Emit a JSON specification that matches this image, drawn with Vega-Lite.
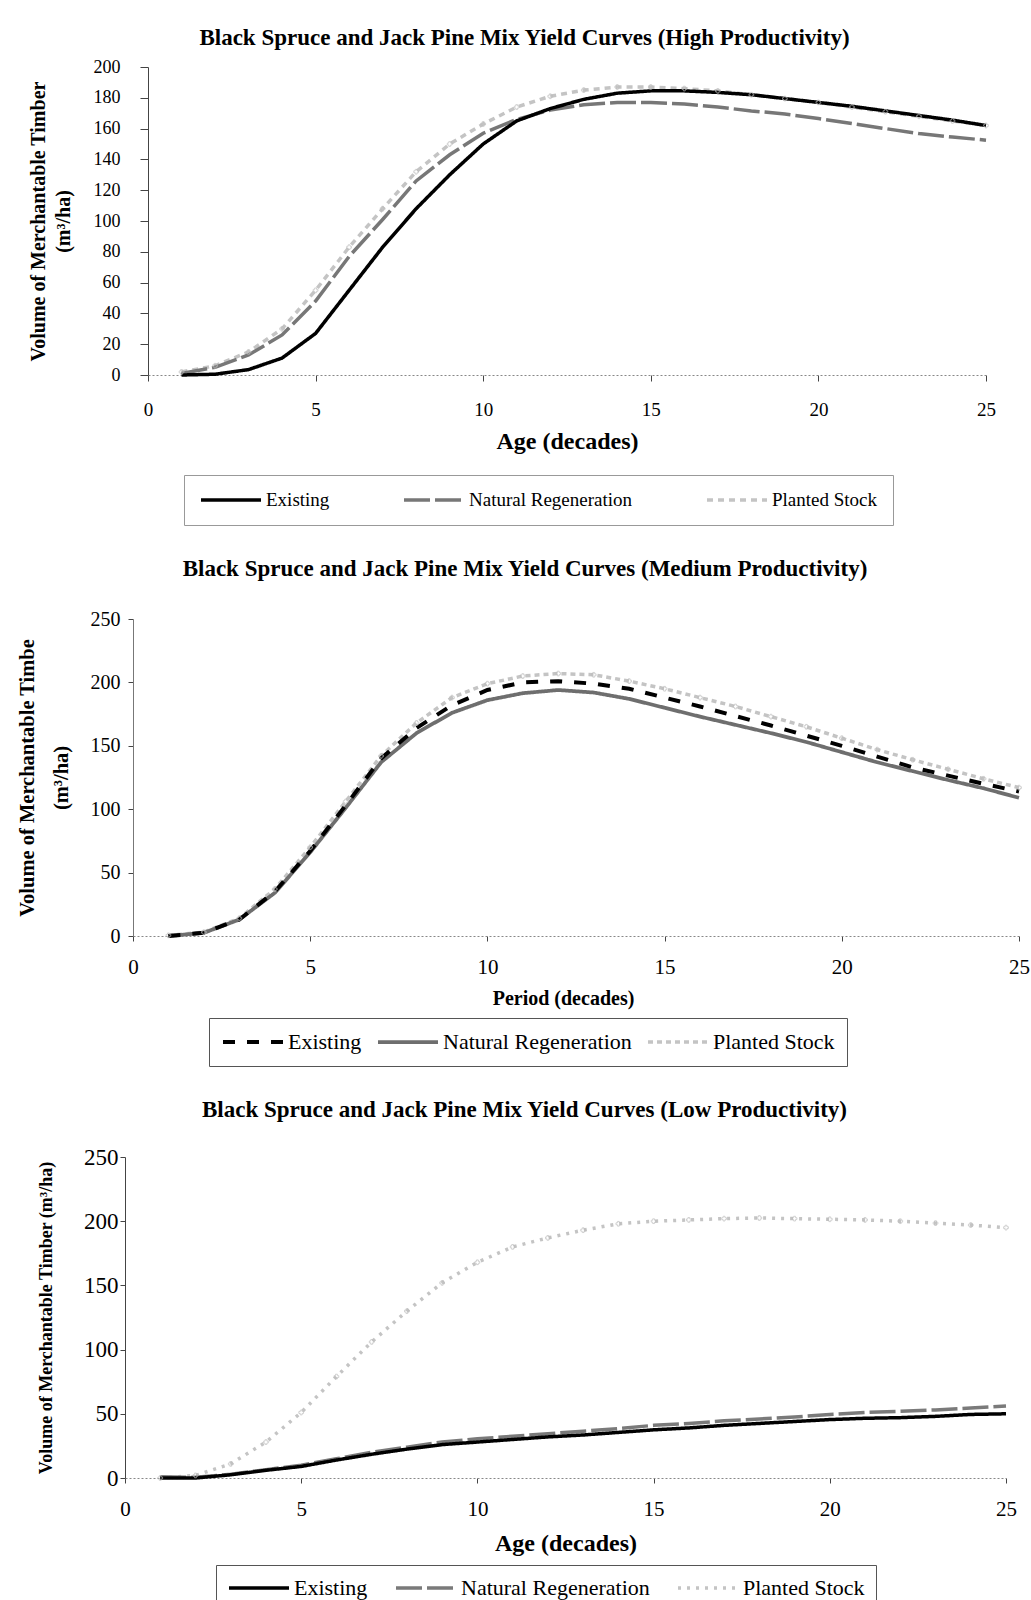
{
  "$schema": "https://vega.github.io/schema/vega-lite/v6.json",
  "background": "white",
  "padding": {"left": 17, "top": 27, "right": 0, "bottom": 0},
  "columns": 1,
  "bounds": "full",
  "spacing": 32,
  "datasets": {
    "high": [
      {"decade":1,"series":"Planted Stock","volume":2},{"decade":2,"series":"Planted Stock","volume":6},{"decade":3,"series":"Planted Stock","volume":15},{"decade":4,"series":"Planted Stock","volume":30},{"decade":5,"series":"Planted Stock","volume":55},{"decade":6,"series":"Planted Stock","volume":83},{"decade":7,"series":"Planted Stock","volume":108},{"decade":8,"series":"Planted Stock","volume":132},{"decade":9,"series":"Planted Stock","volume":150},{"decade":10,"series":"Planted Stock","volume":163},{"decade":11,"series":"Planted Stock","volume":174},{"decade":12,"series":"Planted Stock","volume":181},{"decade":13,"series":"Planted Stock","volume":185},{"decade":14,"series":"Planted Stock","volume":187},{"decade":15,"series":"Planted Stock","volume":187},{"decade":16,"series":"Planted Stock","volume":186},{"decade":17,"series":"Planted Stock","volume":184.5},{"decade":18,"series":"Planted Stock","volume":182},{"decade":19,"series":"Planted Stock","volume":179.5},{"decade":20,"series":"Planted Stock","volume":177},{"decade":21,"series":"Planted Stock","volume":174},{"decade":22,"series":"Planted Stock","volume":171},{"decade":23,"series":"Planted Stock","volume":168},{"decade":24,"series":"Planted Stock","volume":165},{"decade":25,"series":"Planted Stock","volume":162},
      {"decade":1,"series":"Natural Regeneration","volume":1},{"decade":2,"series":"Natural Regeneration","volume":5},{"decade":3,"series":"Natural Regeneration","volume":13},{"decade":4,"series":"Natural Regeneration","volume":26},{"decade":5,"series":"Natural Regeneration","volume":48},{"decade":6,"series":"Natural Regeneration","volume":77},{"decade":7,"series":"Natural Regeneration","volume":101},{"decade":8,"series":"Natural Regeneration","volume":126},{"decade":9,"series":"Natural Regeneration","volume":143},{"decade":10,"series":"Natural Regeneration","volume":157},{"decade":11,"series":"Natural Regeneration","volume":166},{"decade":12,"series":"Natural Regeneration","volume":172},{"decade":13,"series":"Natural Regeneration","volume":175.5},{"decade":14,"series":"Natural Regeneration","volume":177},{"decade":15,"series":"Natural Regeneration","volume":177},{"decade":16,"series":"Natural Regeneration","volume":176},{"decade":17,"series":"Natural Regeneration","volume":174},{"decade":18,"series":"Natural Regeneration","volume":171.5},{"decade":19,"series":"Natural Regeneration","volume":169.5},{"decade":20,"series":"Natural Regeneration","volume":166.5},{"decade":21,"series":"Natural Regeneration","volume":163.3},{"decade":22,"series":"Natural Regeneration","volume":160},{"decade":23,"series":"Natural Regeneration","volume":156.8},{"decade":24,"series":"Natural Regeneration","volume":154.5},{"decade":25,"series":"Natural Regeneration","volume":152.5},
      {"decade":1,"series":"Existing","volume":0},{"decade":2,"series":"Existing","volume":0.5},{"decade":3,"series":"Existing","volume":3.5},{"decade":4,"series":"Existing","volume":11},{"decade":5,"series":"Existing","volume":27},{"decade":6,"series":"Existing","volume":55},{"decade":7,"series":"Existing","volume":83},{"decade":8,"series":"Existing","volume":108},{"decade":9,"series":"Existing","volume":130},{"decade":10,"series":"Existing","volume":150},{"decade":11,"series":"Existing","volume":165},{"decade":12,"series":"Existing","volume":173},{"decade":13,"series":"Existing","volume":179},{"decade":14,"series":"Existing","volume":183},{"decade":15,"series":"Existing","volume":184.5},{"decade":16,"series":"Existing","volume":184.5},{"decade":17,"series":"Existing","volume":183.5},{"decade":18,"series":"Existing","volume":182},{"decade":19,"series":"Existing","volume":179.5},{"decade":20,"series":"Existing","volume":177},{"decade":21,"series":"Existing","volume":174.5},{"decade":22,"series":"Existing","volume":171.5},{"decade":23,"series":"Existing","volume":168.5},{"decade":24,"series":"Existing","volume":165.5},{"decade":25,"series":"Existing","volume":162}
    ],
    "medium": [
      {"decade":1,"series":"Planted Stock","volume":0.5},{"decade":2,"series":"Planted Stock","volume":3},{"decade":3,"series":"Planted Stock","volume":14},{"decade":4,"series":"Planted Stock","volume":37},{"decade":5,"series":"Planted Stock","volume":70},{"decade":6,"series":"Planted Stock","volume":106},{"decade":7,"series":"Planted Stock","volume":142},{"decade":8,"series":"Planted Stock","volume":168},{"decade":9,"series":"Planted Stock","volume":188},{"decade":10,"series":"Planted Stock","volume":199},{"decade":11,"series":"Planted Stock","volume":205},{"decade":12,"series":"Planted Stock","volume":207},{"decade":13,"series":"Planted Stock","volume":206},{"decade":14,"series":"Planted Stock","volume":201},{"decade":15,"series":"Planted Stock","volume":195},{"decade":16,"series":"Planted Stock","volume":188},{"decade":17,"series":"Planted Stock","volume":181},{"decade":18,"series":"Planted Stock","volume":173},{"decade":19,"series":"Planted Stock","volume":165},{"decade":20,"series":"Planted Stock","volume":156},{"decade":21,"series":"Planted Stock","volume":147},{"decade":22,"series":"Planted Stock","volume":139},{"decade":23,"series":"Planted Stock","volume":131.5},{"decade":24,"series":"Planted Stock","volume":124},{"decade":25,"series":"Planted Stock","volume":117},
      {"decade":1,"series":"Natural Regeneration","volume":0},{"decade":2,"series":"Natural Regeneration","volume":2.5},{"decade":3,"series":"Natural Regeneration","volume":13},{"decade":4,"series":"Natural Regeneration","volume":34},{"decade":5,"series":"Natural Regeneration","volume":66},{"decade":6,"series":"Natural Regeneration","volume":101},{"decade":7,"series":"Natural Regeneration","volume":137},{"decade":8,"series":"Natural Regeneration","volume":160},{"decade":9,"series":"Natural Regeneration","volume":176},{"decade":10,"series":"Natural Regeneration","volume":186},{"decade":11,"series":"Natural Regeneration","volume":191.5},{"decade":12,"series":"Natural Regeneration","volume":194},{"decade":13,"series":"Natural Regeneration","volume":192},{"decade":14,"series":"Natural Regeneration","volume":187},{"decade":15,"series":"Natural Regeneration","volume":180},{"decade":16,"series":"Natural Regeneration","volume":173},{"decade":17,"series":"Natural Regeneration","volume":166.5},{"decade":18,"series":"Natural Regeneration","volume":160},{"decade":19,"series":"Natural Regeneration","volume":153},{"decade":20,"series":"Natural Regeneration","volume":145},{"decade":21,"series":"Natural Regeneration","volume":137},{"decade":22,"series":"Natural Regeneration","volume":130},{"decade":23,"series":"Natural Regeneration","volume":123},{"decade":24,"series":"Natural Regeneration","volume":116.5},{"decade":25,"series":"Natural Regeneration","volume":109},
      {"decade":1,"series":"Existing","volume":0},{"decade":2,"series":"Existing","volume":2.5},{"decade":3,"series":"Existing","volume":13},{"decade":4,"series":"Existing","volume":35},{"decade":5,"series":"Existing","volume":67},{"decade":6,"series":"Existing","volume":103},{"decade":7,"series":"Existing","volume":140},{"decade":8,"series":"Existing","volume":164},{"decade":9,"series":"Existing","volume":182},{"decade":10,"series":"Existing","volume":194},{"decade":11,"series":"Existing","volume":200},{"decade":12,"series":"Existing","volume":201},{"decade":13,"series":"Existing","volume":199},{"decade":14,"series":"Existing","volume":195},{"decade":15,"series":"Existing","volume":188},{"decade":16,"series":"Existing","volume":181},{"decade":17,"series":"Existing","volume":173.5},{"decade":18,"series":"Existing","volume":166},{"decade":19,"series":"Existing","volume":158},{"decade":20,"series":"Existing","volume":150},{"decade":21,"series":"Existing","volume":141.5},{"decade":22,"series":"Existing","volume":133},{"decade":23,"series":"Existing","volume":126.5},{"decade":24,"series":"Existing","volume":120},{"decade":25,"series":"Existing","volume":114}
    ],
    "low": [
      {"decade":1,"series":"Planted Stock","volume":0},{"decade":2,"series":"Planted Stock","volume":2},{"decade":3,"series":"Planted Stock","volume":11},{"decade":4,"series":"Planted Stock","volume":28},{"decade":5,"series":"Planted Stock","volume":51},{"decade":6,"series":"Planted Stock","volume":79},{"decade":7,"series":"Planted Stock","volume":106},{"decade":8,"series":"Planted Stock","volume":130},{"decade":9,"series":"Planted Stock","volume":152},{"decade":10,"series":"Planted Stock","volume":168},{"decade":11,"series":"Planted Stock","volume":180},{"decade":12,"series":"Planted Stock","volume":187},{"decade":13,"series":"Planted Stock","volume":193},{"decade":14,"series":"Planted Stock","volume":198},{"decade":15,"series":"Planted Stock","volume":200},{"decade":16,"series":"Planted Stock","volume":201},{"decade":17,"series":"Planted Stock","volume":202},{"decade":18,"series":"Planted Stock","volume":202.5},{"decade":19,"series":"Planted Stock","volume":202},{"decade":20,"series":"Planted Stock","volume":201.5},{"decade":21,"series":"Planted Stock","volume":201},{"decade":22,"series":"Planted Stock","volume":200},{"decade":23,"series":"Planted Stock","volume":198.5},{"decade":24,"series":"Planted Stock","volume":197},{"decade":25,"series":"Planted Stock","volume":195},
      {"decade":1,"series":"Natural Regeneration","volume":1},{"decade":2,"series":"Natural Regeneration","volume":0.5},{"decade":3,"series":"Natural Regeneration","volume":3},{"decade":4,"series":"Natural Regeneration","volume":6.5},{"decade":5,"series":"Natural Regeneration","volume":10},{"decade":6,"series":"Natural Regeneration","volume":15},{"decade":7,"series":"Natural Regeneration","volume":20},{"decade":8,"series":"Natural Regeneration","volume":24},{"decade":9,"series":"Natural Regeneration","volume":28},{"decade":10,"series":"Natural Regeneration","volume":30.5},{"decade":11,"series":"Natural Regeneration","volume":32.5},{"decade":12,"series":"Natural Regeneration","volume":34.5},{"decade":13,"series":"Natural Regeneration","volume":36.5},{"decade":14,"series":"Natural Regeneration","volume":38.5},{"decade":15,"series":"Natural Regeneration","volume":41},{"decade":16,"series":"Natural Regeneration","volume":42.5},{"decade":17,"series":"Natural Regeneration","volume":44.5},{"decade":18,"series":"Natural Regeneration","volume":46},{"decade":19,"series":"Natural Regeneration","volume":47.5},{"decade":20,"series":"Natural Regeneration","volume":49.5},{"decade":21,"series":"Natural Regeneration","volume":51},{"decade":22,"series":"Natural Regeneration","volume":52},{"decade":23,"series":"Natural Regeneration","volume":53},{"decade":24,"series":"Natural Regeneration","volume":54.5},{"decade":25,"series":"Natural Regeneration","volume":56},
      {"decade":1,"series":"Existing","volume":0},{"decade":2,"series":"Existing","volume":0},{"decade":3,"series":"Existing","volume":2.5},{"decade":4,"series":"Existing","volume":6},{"decade":5,"series":"Existing","volume":9},{"decade":6,"series":"Existing","volume":14},{"decade":7,"series":"Existing","volume":18.5},{"decade":8,"series":"Existing","volume":22.5},{"decade":9,"series":"Existing","volume":26},{"decade":10,"series":"Existing","volume":28},{"decade":11,"series":"Existing","volume":30},{"decade":12,"series":"Existing","volume":32},{"decade":13,"series":"Existing","volume":33.5},{"decade":14,"series":"Existing","volume":35.5},{"decade":15,"series":"Existing","volume":37.5},{"decade":16,"series":"Existing","volume":39},{"decade":17,"series":"Existing","volume":41},{"decade":18,"series":"Existing","volume":42.5},{"decade":19,"series":"Existing","volume":44},{"decade":20,"series":"Existing","volume":45.5},{"decade":21,"series":"Existing","volume":46.5},{"decade":22,"series":"Existing","volume":47},{"decade":23,"series":"Existing","volume":48},{"decade":24,"series":"Existing","volume":49.5},{"decade":25,"series":"Existing","volume":50}
    ]
  },
  "concat": [
    {
      "title": {"text": "Black Spruce and Jack Pine Mix Yield Curves (High Productivity)", "fontSize": 23, "fontWeight": "bold", "frame": "group", "anchor": "middle", "dx": -31, "offset": 8},
      "width": 861,
      "height": 308,
      "data": {"name": "high"},
      "encoding": {
        "x": {"field": "decade", "type": "quantitative", "scale": {"domain": [0, 25], "nice": false, "range": [23, 861]},
          "axis": {"title": "Age (decades)", "values": [0, 5, 10, 15, 20, 25], "tickSize": 6, "labelPadding": 19, "labelFontSize": 19, "titleFontSize": 24, "titlePadding": 10, "domainDash": [2, 2], "domainColor": "#888", "tickColor": "#444", "labelFlush": false}},
        "y": {"field": "volume", "type": "quantitative", "scale": {"domain": [0, 200], "nice": false},
          "axis": {"title": ["Volume of Merchantable Timber", "(m³/ha)"], "offset": -23, "titleLineHeight": 25, "tickCount": 10, "labelOverlap": false, "tickSize": 8, "labelPadding": 20, "labelFontSize": 18, "titleFontSize": 20, "titlePadding": 20, "domainColor": "#444", "tickColor": "#444"}}
      },
      "layer": [
        {
          "mark": {"type": "line"},
          "encoding": {
            "color": {"field": "series", "type": "nominal", "scale": {"domain": ["Existing", "Natural Regeneration", "Planted Stock"], "range": ["#000000", "#777777", "#c4c4c4"]},
              "legend": {"title": null, "orient": "none", "legendX": 59, "legendY": 408, "direction": "horizontal", "columns": 3, "gridAlign": "none", "columnPadding": 72, "padding": 15, "strokeColor": "#999", "symbolType": "stroke", "symbolSize": 3600, "clipHeight": 20, "labelFontSize": 19, "labelOffset": 3, "labelLimit": 400}},
            "strokeDash": {"field": "series", "type": "nominal", "scale": {"domain": ["Existing", "Natural Regeneration", "Planted Stock"], "range": [[1, 0], [26, 5], [6, 5]]},
              "legend": {"title": null, "orient": "none", "legendX": 59, "legendY": 408, "direction": "horizontal", "columns": 3, "gridAlign": "none", "columnPadding": 72, "padding": 15, "strokeColor": "#999", "symbolType": "stroke", "symbolSize": 3600, "clipHeight": 20, "labelFontSize": 19, "labelOffset": 3, "labelLimit": 400}},
            "strokeWidth": {"field": "series", "type": "nominal", "scale": {"domain": ["Existing", "Natural Regeneration", "Planted Stock"], "range": [3.5, 3.5, 1.5]},
              "legend": {"title": null, "orient": "none", "legendX": 59, "legendY": 408, "direction": "horizontal", "columns": 3, "gridAlign": "none", "columnPadding": 72, "padding": 15, "strokeColor": "#999", "symbolType": "stroke", "symbolSize": 3600, "clipHeight": 20, "labelFontSize": 19, "labelOffset": 3, "labelLimit": 400}}
          }
        },
        {
          "transform": [{"filter": {"field": "series", "equal": "Planted Stock"}}],
          "mark": {"type": "point", "shape": "cross", "size": 22, "filled": false, "color": "#bdbdbd", "strokeWidth": 1}
        }
      ]
    },
    {
      "title": {"text": "Black Spruce and Jack Pine Mix Yield Curves (Medium Productivity)", "fontSize": 23, "fontWeight": "bold", "frame": "group", "anchor": "middle", "dx": -47, "offset": 28},
      "width": 894,
      "height": 317,
      "data": {"name": "medium"},
      "encoding": {
        "x": {"field": "decade", "type": "quantitative", "scale": {"domain": [0, 25], "nice": false, "range": [8, 894]},
          "axis": {"title": "Period (decades)", "titleX": 438, "values": [0, 5, 10, 15, 20, 25], "tickSize": 5, "labelPadding": 15, "labelFontSize": 21, "titleFontSize": 20, "titlePadding": 11, "domainDash": [2, 2], "domainColor": "#888", "tickColor": "#444", "labelFlush": false}},
        "y": {"field": "volume", "type": "quantitative", "scale": {"domain": [0, 250], "nice": false},
          "axis": {"title": ["Volume of Merchantable Timbe", "(m³/ha)"], "offset": -8, "titleLineHeight": 34, "values": [0, 50, 100, 150, 200, 250], "labelOverlap": false, "tickSize": 5, "labelPadding": 8, "labelFontSize": 20, "titleFontSize": 20.5, "titlePadding": 19, "domainColor": "#777", "tickColor": "#444"}}
      },
      "layer": [
        {
          "mark": {"type": "line"},
          "encoding": {
            "color": {"field": "series", "type": "nominal", "scale": {"domain": ["Existing", "Natural Regeneration", "Planted Stock"], "range": ["#000000", "#6e6e6e", "#c4c4c4"]},
              "legend": {"title": null, "orient": "none", "legendX": 84, "legendY": 399, "direction": "horizontal", "columns": 3, "gridAlign": "none", "columnPadding": 14, "padding": 12, "strokeColor": "#555", "symbolType": "stroke", "symbolSize": 3600, "clipHeight": 24, "labelFontSize": 22, "labelOffset": 3, "labelLimit": 400}},
            "strokeDash": {"field": "series", "type": "nominal", "scale": {"domain": ["Existing", "Natural Regeneration", "Planted Stock"], "range": [[12, 12], [1, 0], [5, 4]]},
              "legend": {"title": null, "orient": "none", "legendX": 84, "legendY": 399, "direction": "horizontal", "columns": 3, "gridAlign": "none", "columnPadding": 14, "padding": 12, "strokeColor": "#555", "symbolType": "stroke", "symbolSize": 3600, "clipHeight": 24, "labelFontSize": 22, "labelOffset": 3, "labelLimit": 400}},
            "strokeWidth": {"field": "series", "type": "nominal", "scale": {"domain": ["Existing", "Natural Regeneration", "Planted Stock"], "range": [4, 3.5, 1.5]},
              "legend": {"title": null, "orient": "none", "legendX": 84, "legendY": 399, "direction": "horizontal", "columns": 3, "gridAlign": "none", "columnPadding": 14, "padding": 12, "strokeColor": "#555", "symbolType": "stroke", "symbolSize": 3600, "clipHeight": 24, "labelFontSize": 22, "labelOffset": 3, "labelLimit": 400}}
          }
        },
        {
          "transform": [{"filter": {"field": "series", "equal": "Planted Stock"}}],
          "mark": {"type": "point", "shape": "cross", "size": 22, "filled": false, "color": "#bdbdbd", "strokeWidth": 1}
        }
      ]
    },
    {
      "title": {"text": "Black Spruce and Jack Pine Mix Yield Curves (Low Productivity)", "fontSize": 23, "fontWeight": "bold", "frame": "group", "anchor": "middle", "dx": -41, "offset": 24},
      "width": 881,
      "height": 321,
      "data": {"name": "low"},
      "encoding": {
        "x": {"field": "decade", "type": "quantitative", "scale": {"domain": [0, 25], "nice": false},
          "axis": {"title": "Age (decades)", "values": [0, 5, 10, 15, 20, 25], "tickSize": 5, "labelPadding": 15, "labelFontSize": 21, "titleFontSize": 24, "titlePadding": 12, "domainDash": [2, 2], "domainColor": "#888", "tickColor": "#444", "labelFlush": false}},
        "y": {"field": "volume", "type": "quantitative", "scale": {"domain": [0, 250], "nice": false},
          "axis": {"title": "Volume of Merchantable Timber (m³/ha)", "values": [0, 50, 100, 150, 200, 250], "labelOverlap": false, "tickSize": 5, "labelPadding": 2, "labelFontSize": 23, "titleFontSize": 18, "titlePadding": 28, "domainColor": "#444", "tickColor": "#444"}}
      },
      "layer": [
        {
          "mark": {"type": "line"},
          "encoding": {
            "color": {"field": "series", "type": "nominal", "scale": {"domain": ["Existing", "Natural Regeneration", "Planted Stock"], "range": ["#000000", "#7a7a7a", "#c4c4c4"]},
              "legend": {"title": null, "orient": "none", "legendX": 91, "legendY": 408, "direction": "horizontal", "columns": 3, "gridAlign": "none", "columnPadding": 26, "padding": 11, "strokeColor": "#555", "symbolType": "stroke", "symbolSize": 3600, "clipHeight": 24, "labelFontSize": 22, "labelOffset": 3, "labelLimit": 400}},
            "strokeDash": {"field": "series", "type": "nominal", "scale": {"domain": ["Existing", "Natural Regeneration", "Planted Stock"], "range": [[1, 0], [26, 5], [3, 6]]},
              "legend": {"title": null, "orient": "none", "legendX": 91, "legendY": 408, "direction": "horizontal", "columns": 3, "gridAlign": "none", "columnPadding": 26, "padding": 11, "strokeColor": "#555", "symbolType": "stroke", "symbolSize": 3600, "clipHeight": 24, "labelFontSize": 22, "labelOffset": 3, "labelLimit": 400}},
            "strokeWidth": {"field": "series", "type": "nominal", "scale": {"domain": ["Existing", "Natural Regeneration", "Planted Stock"], "range": [3.5, 3.5, 1.5]},
              "legend": {"title": null, "orient": "none", "legendX": 91, "legendY": 408, "direction": "horizontal", "columns": 3, "gridAlign": "none", "columnPadding": 26, "padding": 11, "strokeColor": "#555", "symbolType": "stroke", "symbolSize": 3600, "clipHeight": 24, "labelFontSize": 22, "labelOffset": 3, "labelLimit": 400}}
          }
        },
        {
          "transform": [{"filter": {"field": "series", "equal": "Planted Stock"}}],
          "mark": {"type": "point", "shape": "cross", "size": 22, "filled": false, "color": "#bdbdbd", "strokeWidth": 1}
        }
      ]
    }
  ],
  "resolve": {
    "scale": {"x": "independent", "y": "independent", "color": "independent", "strokeDash": "independent", "strokeWidth": "independent"},
    "legend": {"color": "independent", "strokeDash": "independent", "strokeWidth": "independent"}
  },
  "config": {
    "font": "Liberation Serif",
    "view": {"stroke": null},
    "axis": {"grid": false, "labelColor": "#000", "titleColor": "#000", "labelFont": "Liberation Serif", "titleFont": "Liberation Serif", "titleFontWeight": "bold"},
    "legend": {"labelFont": "Liberation Serif", "labelColor": "#000"},
    "title": {"font": "Liberation Serif", "color": "#000"}
  }
}
